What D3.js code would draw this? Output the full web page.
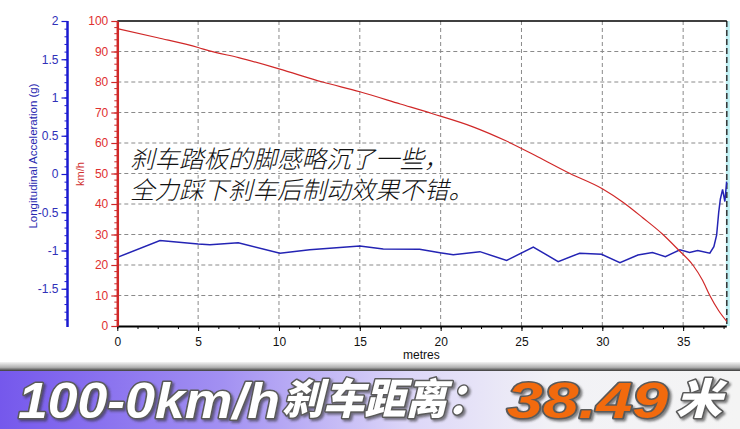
<!DOCTYPE html>
<html><head><meta charset="utf-8">
<script src="https://cdn.jsdelivr.net/npm/d3@7"></script>
<style>
html,body{margin:0;padding:0;background:#fff;}
svg{display:block;}
</style></head>
<body>
<svg id="chart" width="740" height="429"></svg>
<script>
// ---- data ----
const speedDist = [0, 2.5, 5, 5.7, 7.5, 10, 12.7, 15, 17.5, 19.5, 22, 24, 26, 28, 30, 31.3, 32.5, 33.75, 34.7, 35.6, 36.2, 36.65, 37.2, 37.7];
const speedKmh  = [97.5, 94.5, 91.3, 90.2, 88, 84.3, 80, 76.8, 72.8, 69.6, 65.3, 60.8, 55.5, 50, 45, 40.5, 35.5, 30, 25, 20, 15, 10, 5, 1.5];
const accDist = [0, 2.64, 5.0, 5.73, 7.48, 10.06, 11.9, 15.0, 16.45, 18.7, 19.96, 20.78, 22.43, 24.08, 25.73, 27.27, 28.6, 29.96, 31.09, 32.2, 33.1, 33.9, 34.8, 35.4, 35.9, 36.65, 36.9, 37.07, 37.2, 37.3, 37.44, 37.58, 37.69];
const accG    = [-1.09, -0.87, -0.915, -0.925, -0.9, -1.035, -0.99, -0.94, -0.98, -0.985, -1.03, -1.055, -1.015, -1.13, -0.955, -1.145, -1.035, -1.05, -1.16, -1.06, -1.025, -1.08, -0.99, -1.025, -1.0, -1.035, -0.95, -0.8, -0.5, -0.33, -0.2, -0.36, -0.1];
const xTicks = [0, 5, 10, 15, 20, 25, 30, 35];
const speedTicks = [0, 10, 20, 30, 40, 50, 60, 70, 80, 90, 100];
const accTicks = [-1.5, -1, -0.5, 0, 0.5, 1, 1.5, 2];
const noteLines = ["刹车踏板的脚感略沉了一些，", "全力踩下刹车后制动效果不错。"];
const bannerParts = ["100-0km/h", "刹车距离：", "38.49", "米"];

// ---- layout ----
const svg = d3.select("#chart");
const L = 117.3, R = 726.8, T = 21, B = 326;
const x = d3.scaleLinear().domain([0, 37.7]).range([L, R]);
const yS = d3.scaleLinear().domain([0, 100]).range([B, T]);
const yA = d3.scaleLinear().domain([-2, 2]).range([327, T]);

const redC = "#d02828", blueC = "#1a1ad0";
const font = "Arial, 'Liberation Sans', sans-serif";

// grid
const grid = svg.append("g");
grid.selectAll("line.h").data(speedTicks.filter(d => d > 0 && d < 100)).join("line")
  .attr("x1", L).attr("x2", R).attr("y1", d => yS(d)).attr("y2", d => yS(d))
  .attr("stroke", "#8a8a8a").attr("stroke-dasharray", "4,3").attr("stroke-width", 1);
grid.selectAll("line.v").data(xTicks.filter(d => d > 0)).join("line")
  .attr("x1", d => x(d)).attr("x2", d => x(d)).attr("y1", T).attr("y2", B)
  .attr("stroke", "#8a8a8a").attr("stroke-dasharray", "4,3").attr("stroke-width", 1);
// right edge marker
svg.append("line").attr("x1", R + 1).attr("x2", R + 1).attr("y1", T).attr("y2", B)
  .attr("stroke", "#bff0f4").attr("stroke-width", 4);
svg.append("line").attr("x1", R).attr("x2", R).attr("y1", T).attr("y2", B)
  .attr("stroke", "#333").attr("stroke-dasharray", "6,3").attr("stroke-width", 1.5);
// top border
svg.append("line").attr("x1", L).attr("x2", R).attr("y1", T).attr("y2", T).attr("stroke", "#000").attr("stroke-width", 1.5);

// note text
const note = svg.append("g").attr("font-family", "'Noto Sans CJK SC', sans-serif")
  .attr("font-size", 24.5).attr("font-style", "italic").attr("font-weight", 300);
note.selectAll("text").data(noteLines).join("text")
  .attr("x", 130).attr("y", (d, i) => 168 + i * 31)
  .attr("fill", "#111").attr("stroke", "#fff").attr("stroke-width", 4)
  .attr("paint-order", "stroke").attr("stroke-linejoin", "round")
  .text(d => d);

// lines
const speedPts = speedDist.map((d, i) => [d, speedKmh[i]]);
const accPts = accDist.map((d, i) => [d, accG[i]]);
svg.append("path").datum(accPts)
  .attr("d", d3.line().x(d => x(d[0])).y(d => yA(d[1])))
  .attr("fill", "none").attr("stroke", "#2424b4").attr("stroke-width", 1.5);
svg.append("path").datum(speedPts)
  .attr("d", d3.line().curve(d3.curveMonotoneX).x(d => x(d[0])).y(d => yS(d[1])))
  .attr("fill", "none").attr("stroke", redC).attr("stroke-width", 1.2);

// x axis
const xAxisG = svg.append("g").attr("transform", `translate(0,${B})`);
xAxisG.call(d3.axisBottom(x).tickValues(d3.range(0, 37.6, 1.25)).tickSize(3).tickFormat(""));
xAxisG.call(g => g.select(".domain").remove());
const xMaj = svg.append("g").attr("transform", `translate(0,${B})`)
  .call(d3.axisBottom(x).tickValues(xTicks).tickSize(5).tickSizeOuter(0).tickPadding(6));
xMaj.select(".domain").attr("d", `M${L},0.5H${R}`).attr("stroke", "#000").attr("stroke-width", 2);
xMaj.selectAll("text").attr("font-family", font).attr("font-size", 12).attr("fill", "#111");
svg.append("text").attr("x", 403).attr("y", 359).attr("font-family", font)
  .attr("font-size", 12).attr("fill", "#111").text("metres");

// speed axis (red)
const sMin = svg.append("g").attr("transform", `translate(${L},0)`)
  .call(d3.axisLeft(yS).tickValues(d3.range(0, 101, 2)).tickSize(3).tickFormat(""));
sMin.select(".domain").remove();
sMin.selectAll("line").attr("stroke", redC);
const sAx = svg.append("g").attr("transform", `translate(${L},0)`)
  .call(d3.axisLeft(yS).tickValues(speedTicks).tickSize(6).tickSizeOuter(0).tickPadding(3));
sAx.select(".domain").attr("stroke", redC).attr("stroke-width", 2.5);
sAx.selectAll("line").attr("stroke", redC).attr("stroke-width", 1.2);
sAx.selectAll("text").attr("fill", "#e03030").attr("font-family", font).attr("font-size", 12);
svg.append("text").attr("transform", "translate(84,174) rotate(-90)").attr("text-anchor", "middle")
  .attr("font-family", font).attr("font-size", 11).attr("fill", "#d03030").text("km/h");

// acceleration axis (blue)
const AX = 67.5;
const aMin = svg.append("g").attr("transform", `translate(${AX},0)`)
  .call(d3.axisLeft(yA).tickValues(d3.range(-19, 20, 1).map(d => d / 10)).tickSize(3).tickFormat(""));
aMin.select(".domain").remove();
aMin.selectAll("line").attr("stroke", blueC);
const aAx = svg.append("g").attr("transform", `translate(${AX},0)`)
  .call(d3.axisLeft(yA).tickValues(accTicks).tickSize(6).tickSizeOuter(0).tickPadding(3).tickFormat(d => String(d)));
aAx.select(".domain").attr("d", `M0,${T}V327`).attr("stroke", blueC).attr("stroke-width", 2.5);
aAx.selectAll("line").attr("stroke", blueC).attr("stroke-width", 1.2);
aAx.selectAll("text").attr("fill", "#3030b8").attr("font-family", font).attr("font-size", 12);
svg.append("text").attr("transform", "translate(37,156) rotate(-90)").attr("text-anchor", "middle")
  .attr("font-family", font).attr("font-size", 11.5).attr("fill", "#2828b0")
  .text("Longitudinal Acceleration (g)");

// ---- banner ----
const defs = svg.append("defs");
const bg = defs.append("linearGradient").attr("id", "bannerGrad").attr("x1", 0).attr("x2", 1).attr("y1", 0).attr("y2", 0);
bg.append("stop").attr("offset", "0").attr("stop-color", "#7558ec");
bg.append("stop").attr("offset", "0.3").attr("stop-color", "#a290f2");
bg.append("stop").attr("offset", "0.55").attr("stop-color", "#dcd6f8");
bg.append("stop").attr("offset", "0.75").attr("stop-color", "#f2f2f6");
bg.append("stop").attr("offset", "1").attr("stop-color", "#f4f4f4");
const sg = defs.append("linearGradient").attr("id", "stripGrad").attr("x1", 0).attr("x2", 0).attr("y1", 0).attr("y2", 1);
sg.append("stop").attr("offset", "0").attr("stop-color", "#f4f4f4");
sg.append("stop").attr("offset", "0.6").attr("stop-color", "#b0b0b0");
sg.append("stop").attr("offset", "1").attr("stop-color", "#3a3a3a");
const flt = defs.append("filter").attr("id", "shadow").attr("x", "-5%").attr("y", "-20%").attr("width", "115%").attr("height", "150%");
flt.append("feDropShadow").attr("dx", 2).attr("dy", 2).attr("stdDeviation", 1).attr("flood-color", "#333").attr("flood-opacity", 0.6);
svg.append("rect").attr("x", 0).attr("y", 371).attr("width", 740).attr("height", 58).attr("fill", "url(#bannerGrad)");
svg.append("rect").attr("x", 0).attr("y", 362).attr("width", 740).attr("height", 9).attr("fill", "url(#stripGrad)");

const bannerSpec = [
  {x: 18, w: 262, y: 418, fill: "#fff", fam: "'Liberation Sans', Arial, sans-serif", fs: 50},
  {x: 282, w: 206, y: 414, fill: "#fff", fam: "'Noto Sans CJK SC', sans-serif", fs: 42},
  {x: 507, w: 161, y: 418, fill: "#f26a0c", fam: "'Liberation Sans', Arial, sans-serif", fs: 50},
  {x: 676, w: 46, y: 414, fill: "#fff", fam: "'Noto Sans CJK SC', sans-serif", fs: 42}
];
const bannerG = svg.append("g").attr("filter", "url(#shadow)");
bannerParts.forEach((t, i) => {
  const s = bannerSpec[i];
  bannerG.append("text").attr("x", s.x).attr("y", s.y).attr("textLength", s.w).attr("lengthAdjust", "spacingAndGlyphs")
    .attr("font-family", s.fam).attr("font-size", s.fs).attr("font-weight", 900).attr("font-style", "italic")
    .attr("fill", s.fill).attr("stroke", "#5a5a5a").attr("stroke-width", 3).attr("paint-order", "stroke")
    .attr("stroke-linejoin", "round").text(t);
});
</script>
</body></html>
